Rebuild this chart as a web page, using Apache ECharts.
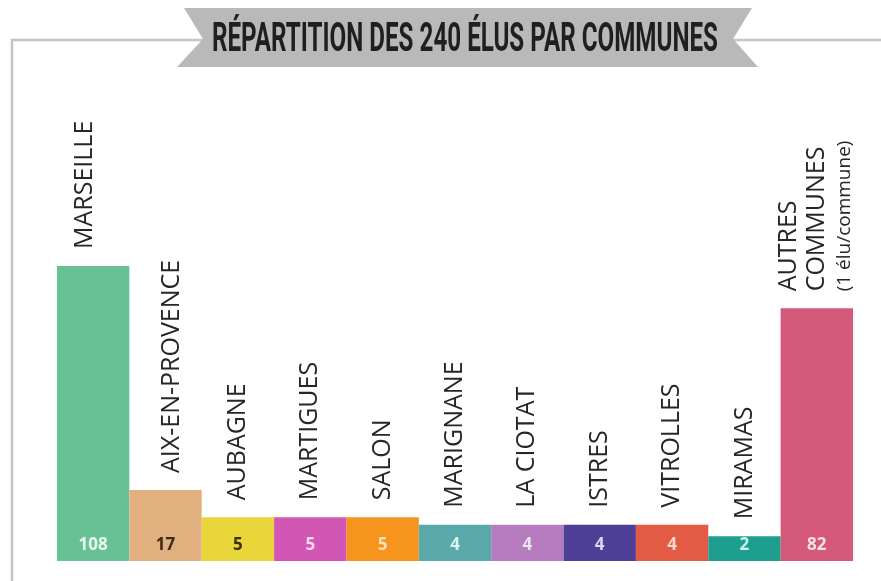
<!DOCTYPE html>
<html>
<head>
<meta charset="utf-8">
<title>Répartition des 240 élus par communes</title>
<style>
  html, body { margin: 0; padding: 0; background: #fff; }
  #chart { width: 881px; height: 581px; }
</style>
<script src="https://cdn.jsdelivr.net/npm/echarts@6/dist/echarts.min.js"></script>
</head>
<body>
<div id="chart"></div>
<script>
// noms des communes (le dernier sur trois lignes)
var communes = ['MARSEILLE', 'AIX-EN-PROVENCE', 'AUBAGNE', 'MARTIGUES', 'SALON', 'MARIGNANE',
  'LA CIOTAT', 'ISTRES', 'VITROLLES', 'MIRAMAS', 'AUTRES\nCOMMUNES\n{s|(1 élu/commune)}'];
// nombre d'élus affiché dans chaque barre
var elus = [108, 17, 5, 5, 5, 4, 4, 4, 4, 2, 82];
// hauteur des barres telle que dessinée (l'infographie n'est pas à l'échelle), en unités où Marseille = 108
var hauteurs = [108, 26, 16, 16, 16, 13.3, 13.3, 13.3, 13.3, 9.1, 92.5];
var couleurs = ['#68c194', '#e2b07f', '#e8d63a', '#d257b4', '#f7941e', '#5aa9aa',
  '#b77cc0', '#4e3f97', '#e35b45', '#1e9e8e', '#d3587a'];
var couleursChiffres = ['#eaf7ef', '#3b2a1c', '#3a3000', '#f8d7f0', '#fde3b5', '#e0f4f4',
  '#f0e0f4', '#dcd8f4', '#fcd9c8', '#c8f4ee', '#f8e0e8'];
var titre = 'RÉPARTITION DES 240 ÉLUS PAR COMMUNES';

// la police du titre est très étroite : on resserre une police grasse installée
var titreFont = 'bold 40px Roboto';
var ctx = document.createElement('canvas').getContext('2d');
ctx.font = titreFont;
var titreScale = 506 / ctx.measureText(titre).width;

var chart = echarts.init(document.getElementById('chart'));

var option = {
  animation: false,
  grid: { left: 57, right: 28, top: 266, bottom: 20 },
  xAxis: {
    type: 'category',
    data: communes,
    show: false
  },
  yAxis: {
    type: 'value',
    min: 0,
    max: 108,
    show: false
  },
  graphic: [
    {
      type: 'polyline',
      z: 1,
      shape: { points: [[12, 581], [12, 40], [881, 40]] },
      style: { stroke: '#c4c4c4', lineWidth: 2.5, fill: null }
    },
    {
      type: 'polygon',
      z: 2,
      shape: { points: [[184, 8], [752, 8], [733, 39], [758, 67], [177, 67], [203, 39]] },
      style: { fill: '#b9b9b9' }
    },
    {
      type: 'text',
      z: 3,
      x: 465,
      y: 41,
      scaleX: titreScale,
      style: {
        text: titre,
        font: titreFont,
        fill: '#1f1f1f',
        align: 'center',
        verticalAlign: 'middle'
      }
    }
  ],
  series: [
    {
      type: 'bar',
      barCategoryGap: '0%',
      barGap: '-100%',
      silent: true,
      data: hauteurs.map(function (h, i) {
        return {
          value: h,
          itemStyle: { color: couleurs[i] },
          label: { color: couleursChiffres[i] }
        };
      }),
      label: {
        show: true,
        position: 'insideBottom',
        distance: 7,
        fontFamily: 'Open Sans',
        fontWeight: 'bold',
        fontSize: 17,
        formatter: function (p) { return elus[p.dataIndex]; }
      }
    },
    {
      type: 'bar',
      barCategoryGap: '0%',
      barGap: '-100%',
      silent: true,
      itemStyle: { color: 'rgba(0,0,0,0)' },
      data: hauteurs.map(function (h, i) {
        // Marseille et Aix ne sont pas tout à fait centrés sur leur barre
        // (texte tourné : le 2e terme du décalage est horizontal à l'écran)
        var decalage = i === 0 ? [0, -8] : (i === 1 ? [0, 6] : [0, 0]);
        return { value: h, label: { offset: decalage } };
      }),
      label: {
        show: true,
        position: 'top',
        rotate: 90,
        align: 'left',
        verticalAlign: 'middle',
        distance: 17,
        fontFamily: 'Open Sans',
        fontSize: 25,
        lineHeight: 28,
        color: '#262626',
        formatter: function (p) { return communes[p.dataIndex]; },
        rich: {
          s: { fontFamily: 'Open Sans', fontSize: 19, lineHeight: 28, color: '#262626' }
        }
      }
    }
  ]
};

chart.setOption(option);
</script>
</body>
</html>
